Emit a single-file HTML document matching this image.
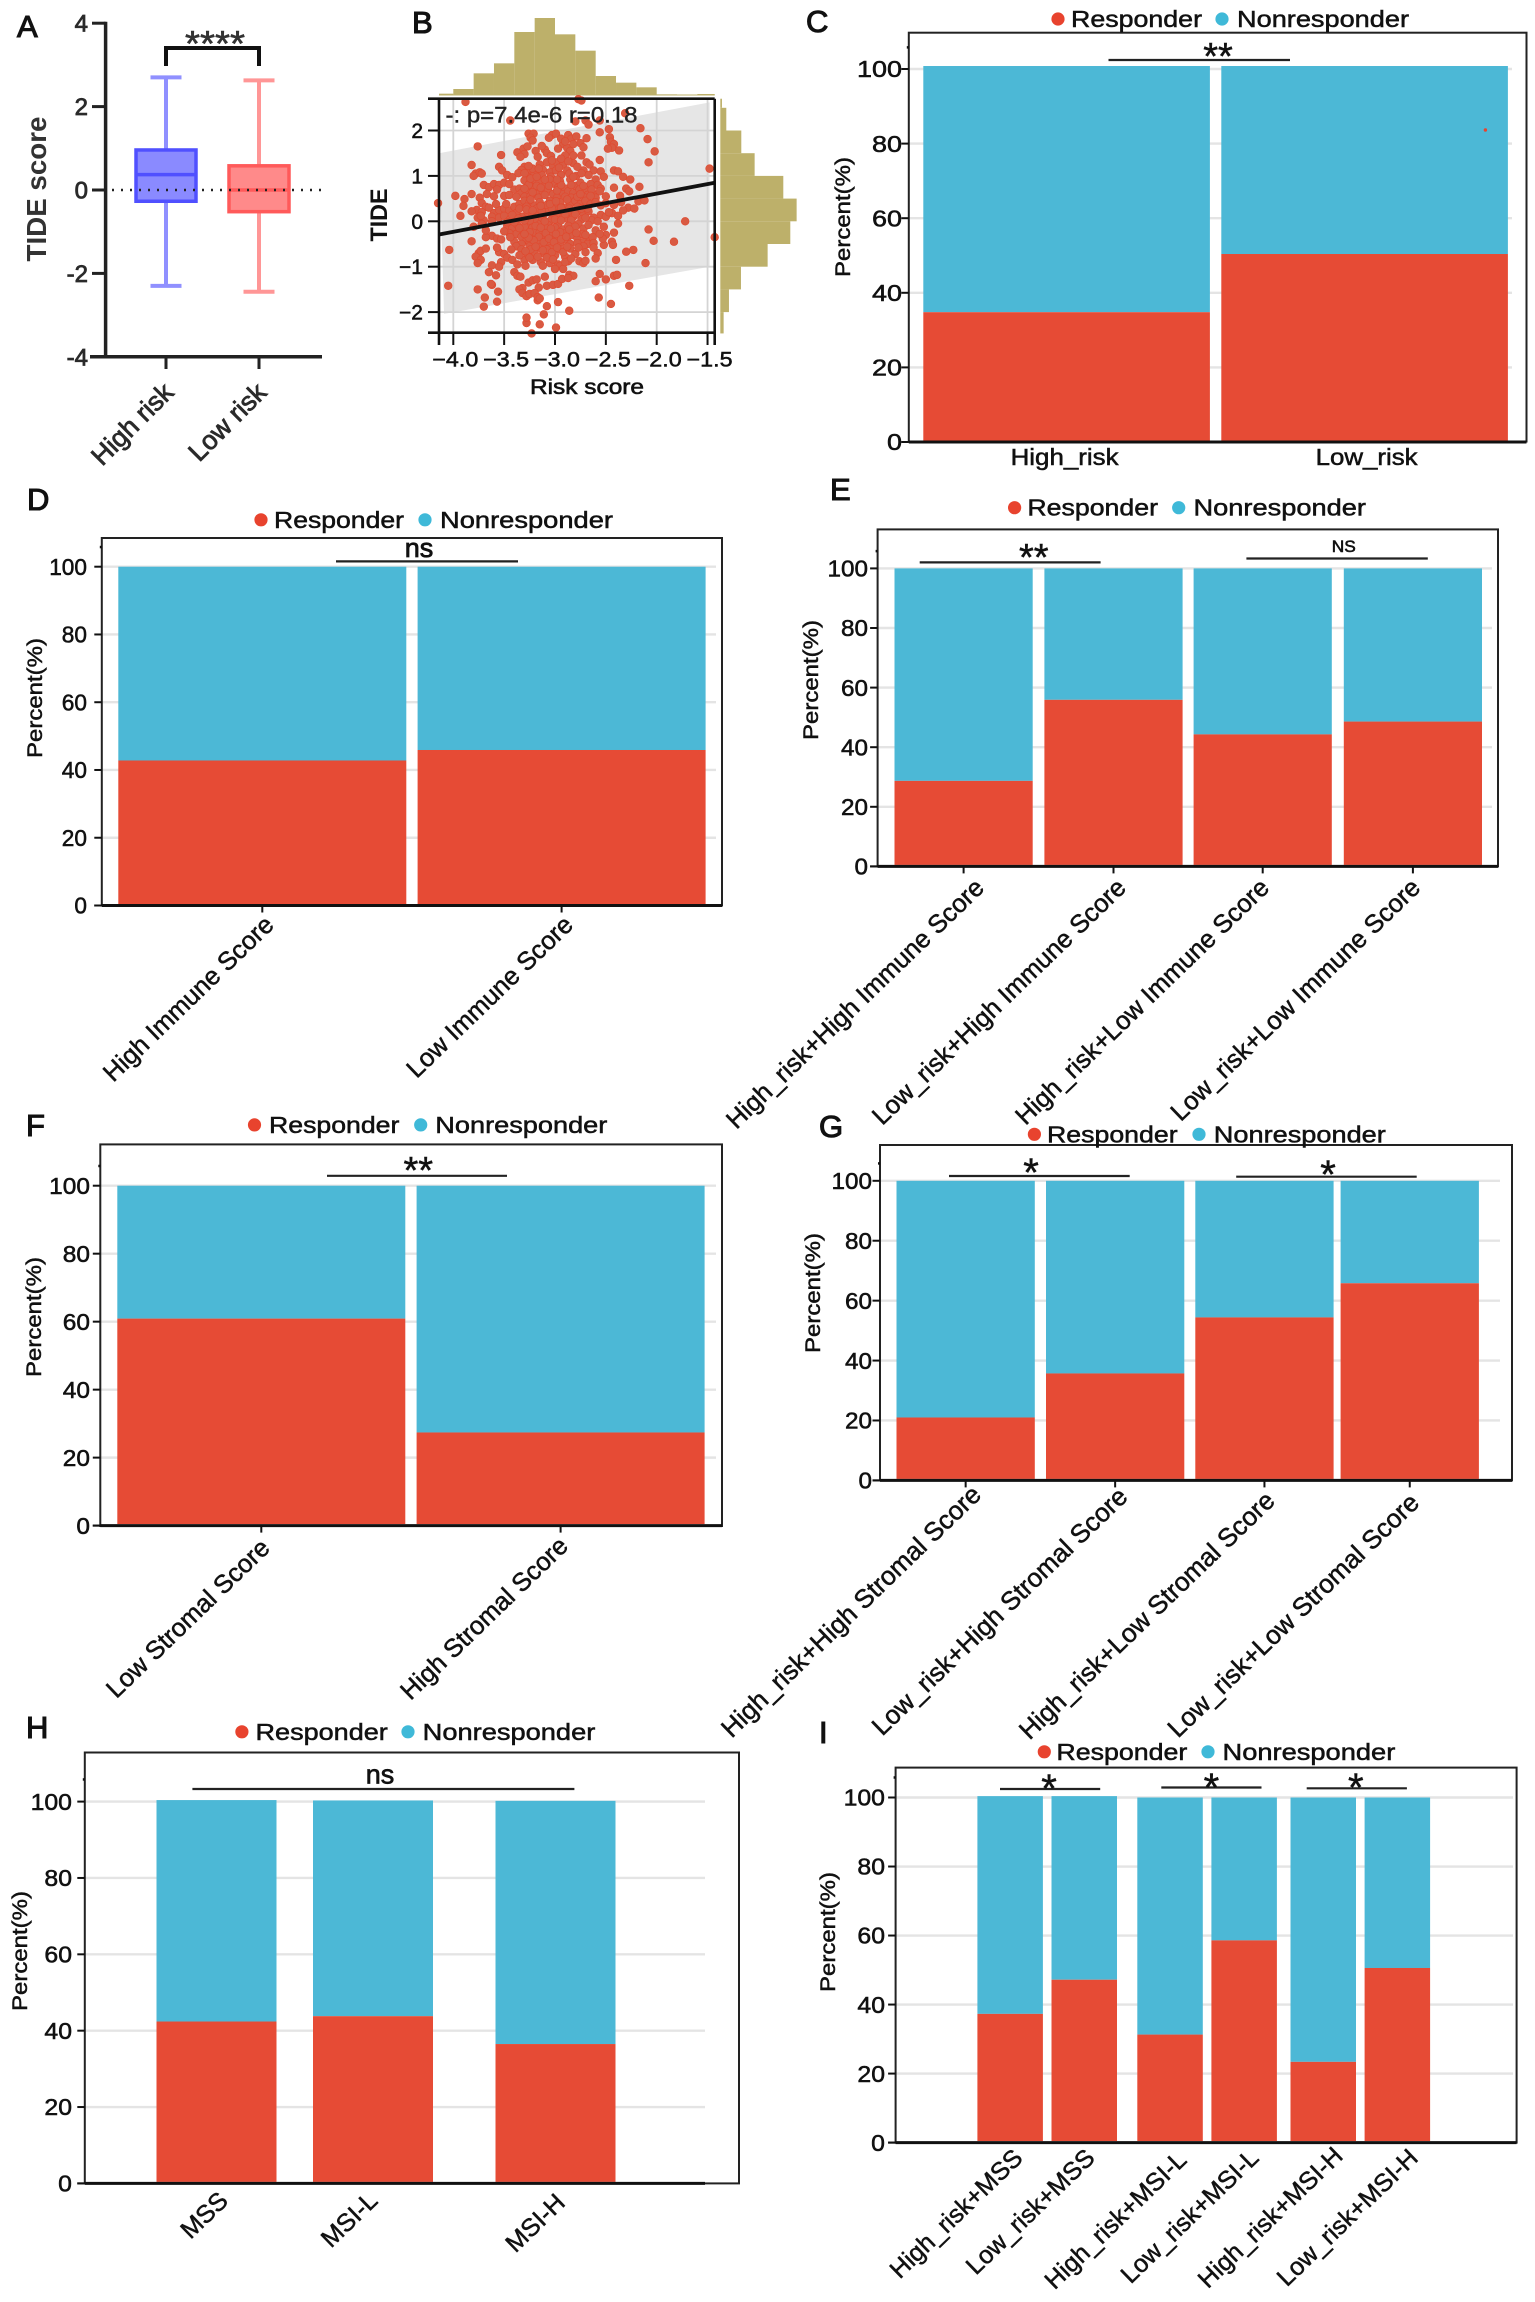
<!DOCTYPE html>
<html lang="en">
<head>
<meta charset="utf-8">
<title>TIDE score and immunotherapy response panels</title>
<style>
html,body{margin:0;padding:0;background:#fff;width:1535px;height:2302px;overflow:hidden}
svg{display:block;font-family:"Liberation Sans",sans-serif}
</style>
</head>
<body>
<svg id="figure" xmlns="http://www.w3.org/2000/svg" width="1535" height="2302" viewBox="0 0 1535 2302">
<rect x="0" y="0" width="1535" height="2302" fill="#ffffff"></rect>
<g id="panel-a"></g>
<g id="panel-b"></g>
<g id="panel-c"></g>
<g id="panel-d"></g>
<g id="panel-e"></g>
<g id="panel-f"></g>
<g id="panel-g"></g>
<g id="panel-h"></g>
<g id="panel-i"></g>
</svg>
<script>
/* ---------- Panel A data ---------- */
const boxCategories = ['High risk', 'Low risk'];
const boxMin = [-2.3, -2.44];
const boxQ1 = [-0.27, -0.52];
const boxMedian = [0.37, 0.0];
const boxQ3 = [0.96, 0.58];
const boxMax = [2.7, 2.63];
const boxTicks = [-4, -2, 0, 2, 4];

/* ---------- Panel B data ---------- */
const riskTicks = [-4.0, -3.5, -3.0, -2.5, -2.0, -1.5];
const tideTicks = [-2, -1, 0, 1, 2];
const fitRisk = [-4.14, -1.43];
const fitTide = [-0.29, 0.85];
const bandUpper = [1.5, 2.62];
const bandLower = [-2.04, -1.0];
const topHistEdges = [-4.14, -4.0, -3.8, -3.6, -3.4, -3.2, -3.0, -2.8, -2.6, -2.4, -2.2, -2.0, -1.8, -1.6, -1.43];
const topHistCounts = [4, 18, 65, 95, 189, 231, 182, 133, 57, 37, 23, 2, 0, 3];
const rightHistEdges = [2.7, 2.5, 2.0, 1.5, 1.0, 0.5, 0.0, -0.5, -1.0, -1.5, -2.0, -2.47];
const rightHistCounts = [5, 18, 63, 103, 189, 229, 210, 142, 62, 26, 10];
const scatterPoints = [
[-3.88,2.63],[-3.44,2.22],[-2.77,2.69],[-2.74,2.66],[-2.31,2.38],[-2.8,2.2],[-2.7,2.22],[-2.67,2.13],[-2.56,2.22],[-2.16,2.05],[-2.47,2.03],[-2.56,1.96],[-2.09,1.81],[-2.02,1.54],[-2.08,1.3],[-1.48,1.16],[-4.15,0.4],[-1.72,0.0],[-2.08,-0.18],[-2.03,-0.43],[-1.83,-0.45],[-1.43,-0.35],[-2.11,-0.92],[-2.23,-0.63],[-2.3,-0.67],[-2.27,-1.42],[-2.45,-1.82],[-2.57,-1.68],[-2.86,-1.97],[-2.97,-1.78],[-2.99,-2.34],[-3.23,-2.47],[-3.15,-2.27],[-3.28,-2.24],[-3.28,-2.12],[-3.11,-2.05],[-3.08,-1.87],[-3.17,-1.74],[-4.05,-1.42],[-4.04,-0.63],[-3.7,-1.88],[-3.69,-1.68],[-3.57,-1.77],[-3.76,-1.5],[-3.56,-1.55],[-3.76,1.65],[-3.53,1.46],[-3.82,1.24],[-3.98,0.56],[-3.89,0.49],[-3.9,0.34],[-3.93,0.12],
[-3.26,1.93],[-3.21,1.93],[-3.24,1.84],[-3.22,1.78],[-3.03,1.9],[-2.99,1.93],[-3.06,1.84],[-2.87,1.9],[-2.84,1.82],[-2.79,1.87],[-2.69,1.83],[-2.75,1.72],[-2.72,1.63],[-2.46,1.85],[-2.45,1.75],[-2.42,1.7],[-2.44,1.62],[-2.37,1.56],[-2.48,1.6],[-3.37,1.52],[-3.31,1.6],[-3.27,1.65],[-3.3,1.48],[-3.19,1.55],[-3.17,1.42],[-3.1,1.58],[-3.08,1.5],[-2.92,1.7],[-2.88,1.62],[-2.85,1.55],[-2.9,1.45],[-2.82,1.45],[-2.74,1.45],[-3.13,1.66],[-2.97,1.6],[-3.04,1.44],[-2.94,1.82],[-2.9,1.76],[-2.82,1.7],[-3.34,1.42],
[-2.56,1.35],[-2.69,1.3],[-2.66,1.25],[-2.72,1.12],[-3.55,1.2],[-3.52,1.12],[-3.47,1.02],[-3.42,0.97],[-3.78,1.05],[-3.8,1.0],[-3.74,1.08],[-3.72,1.05],[-3.3,1.2],[-3.25,1.1],[-3.2,1.05],[-3.28,1.0],[-3.15,1.25],[-3.08,1.3],[-3.02,1.22],[-2.98,1.3],[-2.92,1.25],[-2.88,1.12],[-2.82,1.28],[-2.78,1.2],[-2.79,1.0],[-2.62,1.12],[-2.55,1.1],[-2.42,1.12],[-2.38,1.1],[-2.33,0.98],[-2.26,0.92],[-3.33,1.13],[-3.22,1.16],[-3.12,1.14],[-3.05,1.08],[-2.99,1.12],[-2.94,1.02],[-2.86,1.05],[-2.67,1.02],[-2.6,0.92],[-2.52,0.98],[-3.36,1.06],[-3.13,1.02],[-3.04,0.98],[-2.74,1.06],
[-3.7,0.8],[-3.65,0.75],[-3.6,0.82],[-3.55,0.8],[-3.5,0.85],[-3.45,0.82],[-3.4,0.7],[-3.35,0.72],[-3.3,0.9],[-3.25,0.84],[-3.2,0.92],[-3.15,0.88],[-3.1,0.78],[-3.05,0.92],[-3.0,0.82],[-2.95,0.88],[-2.9,0.72],[-2.85,0.92],[-2.8,0.78],[-2.75,0.85],[-2.7,0.7],[-2.65,0.82],[-2.58,0.8],[-2.55,0.72],[-2.42,0.74],[-2.3,0.72],[-2.17,0.76],[-3.33,0.62],[-3.27,0.66],[-3.22,0.74],[-3.18,0.6],[-3.12,0.66],[-3.07,0.7],[-3.02,0.6],[-2.97,0.74],[-2.92,0.6],[-2.87,0.66],[-2.82,0.62],[-2.76,0.7],[-2.68,0.58],[-2.62,0.6],[-2.56,0.66],[-2.36,0.56],[-2.27,0.66],[-3.82,0.6],[-3.74,0.52],[-3.67,0.6],[-3.6,0.55],[-3.57,0.7],[-3.5,0.56],[-3.45,0.58],[-3.38,0.54],[-3.3,0.54],[-3.24,0.56],[-3.16,0.52],[-3.1,0.58],[-2.98,0.52],[-2.9,0.54],[-2.84,0.52],[-2.72,0.54],[-2.6,0.52],[-2.5,0.55],[-3.26,0.8],[-3.18,0.78],[-2.98,0.68],[-2.72,0.78],[-2.64,0.7],
[-3.72,0.4],[-3.68,0.32],[-3.77,0.25],[-3.82,0.22],[-3.72,0.2],[-3.65,0.3],[-3.6,0.18],[-3.55,0.25],[-3.5,0.28],[-3.45,0.24],[-3.4,0.32],[-3.35,0.38],[-3.3,0.45],[-3.25,0.42],[-3.2,0.35],[-3.15,0.42],[-3.1,0.3],[-3.05,0.45],[-3.0,0.35],[-2.95,0.42],[-2.9,0.3],[-2.85,0.4],[-2.8,0.45],[-2.75,0.38],[-2.7,0.45],[-2.65,0.38],[-2.6,0.42],[-2.55,0.35],[-2.42,0.36],[-2.35,0.42],[-2.28,0.3],[-2.22,0.28],[-2.18,0.44],[-2.12,0.46],[-3.76,0.08],[-3.7,0.02],[-3.73,0.12],[-3.62,0.1],[-3.55,0.08],[-3.5,0.12],[-3.44,0.05],[-3.38,0.18],[-3.32,0.1],[-3.27,0.2],[-3.22,0.14],[-3.17,0.22],[-3.12,0.12],[-3.07,0.2],[-3.02,0.1],[-2.97,0.24],[-2.92,0.12],[-2.87,0.2],[-2.82,0.1],[-2.77,0.22],[-2.72,0.14],[-2.67,0.22],[-2.62,0.08],[-2.55,0.14],[-2.5,0.1],[-2.44,0.18],[-2.38,0.12],[-2.33,0.24],[-2.47,0.2],[-3.35,0.28],[-3.28,0.32],[-3.18,0.28],[-3.08,0.36],[-2.98,0.18],[-2.88,0.06],[-2.78,0.32],[-2.68,0.28],[-3.42,0.14],[-3.14,0.04],[-3.04,0.02],[-2.84,0.03],[-2.74,0.04],[-2.64,0.02],
[-3.8,-0.12],[-3.72,-0.06],[-3.62,-0.32],[-3.57,-0.38],[-3.53,-0.4],[-3.47,-0.1],[-3.42,-0.15],[-3.37,-0.08],[-3.32,-0.2],[-3.27,-0.05],[-3.22,-0.14],[-3.17,-0.06],[-3.12,-0.18],[-3.07,-0.08],[-3.02,-0.22],[-2.97,-0.06],[-2.92,-0.18],[-2.87,-0.1],[-2.82,-0.2],[-2.77,-0.06],[-2.72,-0.16],[-2.67,-0.08],[-2.6,-0.2],[-2.52,-0.12],[-2.5,-0.3],[-2.42,-0.25],[-2.38,-0.05],[-3.38,-0.28],[-3.33,-0.34],[-3.28,-0.42],[-3.23,-0.3],[-3.18,-0.38],[-3.13,-0.3],[-3.08,-0.42],[-3.03,-0.32],[-2.98,-0.4],[-2.93,-0.32],[-2.88,-0.42],[-2.83,-0.3],[-2.78,-0.38],[-2.73,-0.28],[-2.68,-0.42],[-2.63,-0.35],[-2.72,-0.46],[-2.44,-0.45],[-3.82,-0.44],[-3.68,-0.35],[-3.45,-0.26],[-3.4,-0.45],[-3.33,-0.5],[-3.25,-0.48],[-3.15,-0.48],[-3.05,-0.5],[-2.95,-0.48],[-2.85,-0.5],[-2.78,-0.48],[-2.68,-0.5],[-2.62,-0.48],[-3.5,-0.22],[-3.44,-0.35],[-3.3,-0.12],[-3.2,-0.24],[-3.1,-0.12],[-3.0,-0.14],[-2.9,-0.26],[-2.8,-0.12],[-2.7,-0.3],[-3.15,-0.24],[-3.05,-0.28],[-2.95,-0.24],[-3.25,-0.24],[-3.35,-0.15],
[-3.75,-0.7],[-3.78,-0.78],[-3.73,-0.85],[-3.76,-0.92],[-3.73,-0.65],[-3.68,-0.6],[-3.62,-0.97],[-3.55,-0.68],[-3.5,-0.72],[-3.47,-0.8],[-3.53,-0.9],[-3.55,-1.0],[-3.42,-0.85],[-3.38,-0.55],[-3.33,-0.62],[-3.3,-0.85],[-3.25,-0.55],[-3.2,-0.7],[-3.22,-0.85],[-3.15,-0.58],[-3.1,-0.72],[-3.14,-0.9],[-3.05,-0.6],[-3.0,-0.75],[-3.05,-0.92],[-2.95,-0.62],[-2.9,-0.78],[-2.97,-0.95],[-2.85,-0.6],[-2.8,-0.72],[-2.87,-0.88],[-2.72,-0.55],[-2.7,-0.68],[-2.62,-0.58],[-2.58,-0.7],[-2.52,-0.52],[-2.95,-0.98],[-3.35,-0.75],[-3.27,-0.72],[-3.08,-0.62],[-2.77,-0.58],[-2.76,-0.88],[-2.72,-0.92],[-2.7,-0.87],[-2.6,-0.82],[-2.4,-0.85],[-2.43,-0.52],
[-3.65,-1.12],[-3.62,-1.4],[-3.58,-1.19],[-3.4,-1.12],[-3.37,-1.2],[-3.34,-1.22],[-3.32,-1.47],[-3.26,-1.35],[-3.22,-1.3],[-3.18,-1.28],[-3.1,-1.22],[-3.08,-1.42],[-3.02,-1.4],[-2.97,-1.38],[-2.93,-1.27],[-2.92,-1.05],[-2.86,-1.18],[-2.82,-1.2],[-3.0,-1.05],[-2.56,-1.16],[-2.5,-1.28],[-2.42,-1.2],[-2.39,-1.18],[-2.6,-1.32],[-2.87,-1.25],[-3.16,-1.46],
[-3.35,-1.5],[-3.32,-1.58],[-3.28,-1.65],[-3.25,-1.6],[-3.2,-1.58],[-3.17,-1.67],[-3.15,-1.7],[-3.63,-1.38],
[-3.19,-0.1],[-3.14,-0.14],[-3.09,-0.26],[-3.04,-0.16],[-2.99,-0.28],[-3.16,-0.34],[-3.11,-0.46],[-3.06,-0.38],[-3.01,-0.46],[-3.21,-0.42],[-3.26,-0.36],[-3.3,-0.28],[-2.94,-0.4],[-2.89,-0.34],[-2.86,-0.18],[-2.79,-0.26],[-3.24,-0.62],[-3.19,-0.56],[-3.12,-0.64],[-3.03,-0.68],[-2.98,-0.58],[-2.92,-0.68],[-2.88,-0.56],[-3.29,-0.66],[-3.17,-0.78],[-3.08,-0.8],[-3.02,-0.84],[-2.9,-0.9],[-3.25,-0.8],[-3.12,-0.98],[-3.2,0.06],[-3.25,0.02],[-3.1,0.0],[-3.0,0.04],[-2.94,0.02],[-2.9,0.16],[-2.8,0.16],[-2.7,0.08],[-3.3,0.02],[-3.36,0.06],[-3.4,-0.02],[-3.28,0.26],[-3.22,0.24],[-3.13,0.22],[-3.03,0.28],[-2.94,0.3],[-2.86,0.28],[-2.74,0.28],[-3.24,0.48],[-3.14,0.34],[-3.05,0.38],[-2.99,0.44],[-2.88,0.48],[-2.78,0.54],[-3.3,0.72],[-3.22,0.64],[-3.14,0.74],[-3.06,0.78],[-2.94,0.8],[-2.84,0.8],[-3.24,0.94],[-3.18,0.98],[-3.1,0.92],[-2.98,0.92],[-2.82,0.98],[-3.3,1.06],[-3.16,1.16],[-3.26,1.22],[-2.96,1.18],[-2.94,1.38],[-2.87,1.32],[-3.03,1.34],[-3.58,0.38],[-3.48,0.38],[-3.62,0.0],[-3.47,-0.02],[-3.57,-0.58],[-3.43,-0.62],[-3.68,-0.2],[-2.58,0.0],[-2.53,-0.38],[-2.56,-0.28],[-2.65,0.56],[-2.5,0.4],[-2.75,0.6],[-2.84,-0.82],[-3.37,-0.95],[-3.29,-0.98]
];

/* ---------- Stacked bar data ---------- */
const percentTicks = [0, 20, 40, 60, 80, 100];

const categoriesC = ['High_risk', 'Low_risk'];
const responderC = [34.8, 50.4];
const nonresponderC = [66.0, 50.4];

const categoriesD = ['High Immune Score', 'Low Immune Score'];
const responderD = [42.8, 45.9];
const nonresponderD = [57.2, 54.1];

const categoriesE = ['High_risk+High Immune Score', 'Low_risk+High Immune Score', 'High_risk+Low Immune Score', 'Low_risk+Low Immune Score'];
const responderE = [28.7, 55.9, 44.3, 48.6];
const nonresponderE = [71.3, 44.1, 55.7, 51.4];

const categoriesF = ['Low Stromal Score', 'High Stromal Score'];
const responderF = [60.9, 27.4];
const nonresponderF = [39.1, 72.6];

const categoriesG = ['High_risk+High Stromal Score', 'Low_risk+High Stromal Score', 'High_risk+Low Stromal Score', 'Low_risk+Low Stromal Score'];
const responderG = [21.0, 35.7, 54.4, 65.8];
const nonresponderG = [79.0, 64.3, 45.6, 34.2];

const categoriesH = ['MSS', 'MSI-L', 'MSI-H'];
const responderH = [42.4, 43.8, 36.5];
const nonresponderH = [58.0, 56.5, 63.7];

const categoriesI = ['High_risk+MSS', 'Low_risk+MSS', 'High_risk+MSI-L', 'Low_risk+MSI-L', 'High_risk+MSI-H', 'Low_risk+MSI-H'];
const responderI = [37.3, 47.2, 31.3, 58.6, 23.4, 50.6];
const nonresponderI = [63.1, 53.2, 68.7, 41.4, 76.6, 49.4];

/* ---------- Drawing helpers ---------- */
const NS = 'http://www.w3.org/2000/svg';
const RED = '#e64b35';
const BLUE = '#4cb8d6';

function shape(parent, tag, attrs, name) {
  const el = document.createElementNS(NS, tag);
  for (const k in attrs) el.setAttribute(k, attrs[k]);
  
  
  parent.appendChild(el);
  return el;
}
function line(parent, x1, y1, x2, y2, stroke, w, name) {
  return shape(parent, 'line', {x1: x1, y1: y1, x2: x2, y2: y2, stroke: stroke, 'stroke-width': w}, name);
}
function label(parent, str, x, y, o, name) {
  const a = {x: x, y: y, 'font-size': o.size, fill: o.fill || '#111', 'text-anchor': o.anchor || 'start'};
  if (o.weight) a['font-weight'] = o.weight;
  if (o.rot) a.transform = 'rotate(' + o.rot + ' ' + x + ' ' + y + ')';
  if (o.len) { a.textLength = o.len; a.lengthAdjust = 'spacingAndGlyphs'; }
  if (o.stroke) { a.stroke = o.fill || '#111'; a['stroke-width'] = o.stroke; }
  const el = shape(parent, 'text', a, name);
  el.textContent = str;
  return el;
}
function slug(s) { return s.toLowerCase().replace(/[^a-z0-9]+/g, '-'); }

/* ---------- Panel letters ---------- */
const fig = document.getElementById('figure');
[['A',17,37],['B',412,33],['C',806,32],['D',27,510],['E',830,500],['F',26,1136],['G',819,1137],['H',26,1738],['I',819,1743]].forEach(function (p) {
  label(fig, p[0], p[1], p[2], {size: 31, stroke: 1.1}, 'panel-letter-' + p[0].toLowerCase());
});

/* ---------- Panel A ---------- */
(function () {
  const g = document.getElementById('panel-a');
  const axisX = 105.6, rightX = 322, yZero = 190, perUnit = 41.7;
  const centers = [166, 259], boxHalf = 30, capHalf = 15.5;
  const y = function (v) { return yZero - v * perUnit; };
  const pal = [
    {fill: '#8a8aff', edge: '#5050ff', wh: '#9090ff'},
    {fill: '#ff8a8a', edge: '#ff5a5a', wh: '#ff9696'}
  ];
  boxCategories.forEach(function (c, i) {
    const cx = centers[i], p = pal[i], n = slug(c);
    line(g, cx, y(boxMax[i]), cx, y(boxQ3[i]), p.wh, 4, 'whisker-upper-' + n);
    line(g, cx, y(boxQ1[i]), cx, y(boxMin[i]), p.wh, 4, 'whisker-lower-' + n);
    line(g, cx - capHalf, y(boxMax[i]), cx + capHalf, y(boxMax[i]), p.wh, 4, 'cap-upper-' + n);
    line(g, cx - capHalf, y(boxMin[i]), cx + capHalf, y(boxMin[i]), p.wh, 4, 'cap-lower-' + n);
    shape(g, 'rect', {x: cx - boxHalf, y: y(boxQ3[i]), width: boxHalf * 2, height: y(boxQ1[i]) - y(boxQ3[i]), fill: p.fill, stroke: p.edge, 'stroke-width': 3.5}, 'box-' + n);
    line(g, cx - boxHalf, y(boxMedian[i]), cx + boxHalf, y(boxMedian[i]), p.edge, 3.5, 'median-' + n);
    line(g, cx, y(-4), cx, 369, '#222', 3, 'x-tick-' + n);
    label(g, c, cx + 9, 394, {size: 26.5, anchor: 'end', rot: -45, fill: '#2a2a2a', stroke: 0.8}, 'x-label-' + n);
  });
  line(g, 112, y(0), 322, y(0), '#222', 2.5, 'zero-reference-line').setAttribute('stroke-dasharray', '2 7');
  line(g, axisX, y(4) - 1.5, axisX, y(-4) + 1.5, '#222', 3.5, 'y-axis-line');
  line(g, 90, y(-4), rightX, y(-4), '#222', 3.5, 'x-axis-line');
  boxTicks.forEach(function (t) {
    line(g, 92, y(t), axisX, y(t), '#222', 3, 'y-tick-' + t);
    label(g, String(t), 88, y(t) + 8.5, {size: 24, anchor: 'end', fill: '#2a2a2a', stroke: 0.8}, 'y-label-' + t);
  });
  label(g, 'TIDE score', 46, 189, {size: 28, weight: 'bold', anchor: 'middle', rot: -90, len: 145, fill: '#333'}, 'y-axis-title');
  shape(g, 'path', {d: 'M166 66V48H259V66', fill: 'none', stroke: '#111', 'stroke-width': 4}, 'significance-bracket');
  label(g, '****', 215, 56, {size: 36, anchor: 'middle', len: 60, fill: '#333', stroke: 0.6}, 'significance-label');
})();

/* ---------- Panel B ---------- */
(function () {
  const g = document.getElementById('panel-b');
  const left = 439, right = 714.7, top = 98.7, bottom = 332.7;
  const sx = function (v) { return 555 + (v + 3) * 101.7; };
  const sy = function (v) { return 221.3 - v * 45.4; };
  const HIST = '#bdb06a';
  topHistCounts.forEach(function (c, i) {
    const h = c / 3;
    shape(g, 'rect', {x: sx(topHistEdges[i]), y: 95 - h, width: sx(topHistEdges[i + 1]) - sx(topHistEdges[i]), height: h, fill: HIST}, 'top-histogram-bin');
  });
  shape(g, 'rect', {x: left, y: 94.5, width: right - left, height: 1, fill: HIST}, 'top-histogram-baseline');
  rightHistCounts.forEach(function (c, i) {
    shape(g, 'rect', {x: 720.3, y: sy(rightHistEdges[i]), width: c / 3, height: sy(rightHistEdges[i + 1]) - sy(rightHistEdges[i]), fill: HIST}, 'right-histogram-bin');
  });
  shape(g, 'polygon', {points: [
    [sx(fitRisk[0]), sy(bandUpper[0])], [sx(fitRisk[1]) - 5, sy(bandUpper[1])],
    [sx(fitRisk[1]) - 5, sy(bandLower[1])], [sx(fitRisk[0]) + 5, sy(bandLower[0])]
  ].join(' '), fill: '#e6e6e6'}, 'confidence-band');
  riskTicks.forEach(function (t) {
    line(g, sx(t), top, sx(t), bottom, '#d4d4d4', 1.8, 'x-gridline');
  });
  tideTicks.forEach(function (t) {
    line(g, left, sy(t), right, sy(t), '#d4d4d4', 1.8, 'y-gridline');
  });
  scatterPoints.forEach(function (p) {
    shape(g, 'circle', {cx: sx(p[0]), cy: sy(p[1]), r: 3.9, fill: '#d95a42', stroke: '#e0492f', 'stroke-width': 0.6}, 'scatter-point');
  });
  line(g, sx(fitRisk[0]), sy(fitTide[0]), sx(fitRisk[1]), sy(fitTide[1]), '#111', 3.8, 'regression-line');
  line(g, 428, top, right, top, '#111', 2.6, 'plot-top-border');
  line(g, 428, bottom, right, bottom, '#111', 2.6, 'plot-bottom-border');
  line(g, left, top, left, 345, '#111', 2.6, 'plot-left-border');
  line(g, right, top, right, 345, '#111', 2.6, 'plot-right-border');
  riskTicks.forEach(function (t) {
    line(g, sx(t), bottom, sx(t), 345, '#111', 2, 'x-tick');
    label(g, '\u2212' + Math.abs(t).toFixed(1), sx(t) + 2, 366.5, {size: 21, anchor: 'middle', len: 46, stroke: 0.5}, 'x-tick-label');
  });
  tideTicks.forEach(function (t) {
    line(g, 428, sy(t), left, sy(t), '#111', 2, 'y-tick');
    label(g, (t < 0 ? '\u2212' : '') + Math.abs(t), 423, sy(t) + 7.5, {size: 21, anchor: 'end', stroke: 0.5}, 'y-tick-label');
  });
  label(g, 'Risk score', 587, 394, {size: 21, anchor: 'middle', len: 114, stroke: 0.6}, 'x-axis-title');
  label(g, 'TIDE', 387, 215, {size: 24, weight: 'bold', anchor: 'middle', rot: -90, len: 53}, 'y-axis-title');
  label(g, '-: p=7.4e-6 r=0.18', 445.5, 122.5, {size: 22.5, len: 192, fill: '#222', stroke: 0.4}, 'correlation-annotation');
})();

/* ---------- Stacked bars ---------- */
function drawStacked(cfg) {
  const g = document.getElementById(cfg.id);
  const y = function (v) { return cfg.y0 - v * (cfg.y0 - cfg.y100) / 100; };
  const F = cfg.frame;
  percentTicks.forEach(function (t) {
    if (t > 0) line(g, F[0], y(t), cfg.gridRight, y(t), '#e4e4e4', 2.4, 'gridline-' + t);
  });
  let x = cfg.x0;
  const centers = [];
  cfg.categories.forEach(function (c, i) {
    const n = slug(c);
    const r = cfg.responder[i], s = cfg.nonresponder[i];
    shape(g, 'rect', {x: x, y: y(r + s), width: cfg.barW, height: y(r) - y(r + s), fill: BLUE}, 'bar-nonresponder-' + n);
    shape(g, 'rect', {x: x, y: y(r), width: cfg.barW, height: y(0) - y(r) - 1.5, fill: RED}, 'bar-responder-' + n);
    centers.push(x + cfg.barW / 2);
    x += cfg.barW + (cfg.gaps[i] || 0);
  });
  shape(g, 'rect', {x: F[0], y: F[1], width: F[2] - F[0], height: F[3] - F[1], fill: 'none', stroke: '#222', 'stroke-width': 2}, 'plot-frame');
  line(g, F[0], y(0), cfg.bottomRight || F[2], y(0), '#111', 3, 'x-axis-line');
  line(g, F[0] - 7.5, y(0), F[0], y(0), '#111', 2, 'y-tick-0');
  percentTicks.forEach(function (t) {
    line(g, F[0] - 7.5, y(t), F[0], y(t), '#111', 2, 'y-tick-' + t);
    const s = String(t);
    label(g, s, cfg.tickRight, y(t) + 8.2, {size: 23.5, anchor: 'end', len: s.length * cfg.digitW, stroke: 0.55}, 'y-tick-label-' + t);
  });
  line(g, F[0] - 2, y(105.8), F[0], y(105.8), '#111', 2.5, 'y-tick-upper-extent');
  label(g, 'Percent(%)', cfg.titleX, cfg.titleY, {size: 21.5, anchor: 'middle', rot: -90, len: 120, stroke: 0.5}, 'y-axis-title');
  const L = cfg.legend;
  shape(g, 'ellipse', {cx: L.redX, cy: L.y, rx: 6.6, ry: 6.6, fill: '#e8432e'}, 'legend-marker-responder');
  label(g, 'Responder', L.t1, L.y + 8, {size: 23, len: L.w1, stroke: 0.5}, 'legend-label-responder');
  shape(g, 'ellipse', {cx: L.blueX, cy: L.y, rx: 6.6, ry: 6.6, fill: '#3fb9d8'}, 'legend-marker-nonresponder');
  label(g, 'Nonresponder', L.t2, L.y + 8, {size: 23, len: L.w2, stroke: 0.5}, 'legend-label-nonresponder');
  cfg.marks.forEach(function (m) {
    line(g, m.x1, m.y, m.x2, m.y, '#222', 2.2, 'significance-line');
    label(g, m.text, m.tx, m.ty, {size: m.size, anchor: 'middle', len: m.len, stroke: m.stroke || 0.5}, 'significance-label');
  });
  cfg.categories.forEach(function (c, i) {
    const n = slug(c), cx = centers[i];
    if (cfg.xTicks) line(g, cx, y(0), cx, y(0) + 7, '#111', 2, 'x-tick-' + n);
    if (cfg.flatLabels) {
      label(g, c, cx + cfg.labelDx[i], y(0) + cfg.labelDy[i], {size: cfg.labelSize, anchor: 'middle', len: cfg.labelLen[i], stroke: 0.5}, 'x-label-' + n);
    } else {
      label(g, c, cx + cfg.labelDx[i], y(0) + cfg.labelDy[i], {size: cfg.labelSize, anchor: 'end', rot: -44, stroke: 0.5}, 'x-label-' + n);
    }
  });
  return g;
}

const panelC = drawStacked({
  id: 'panel-c', categories: categoriesC, responder: responderC, nonresponder: nonresponderC,
  frame: [908.8, 32.7, 1526.5, 441.5], y0: 442, y100: 69, x0: 923.3, barW: 286.6, gaps: [11.4], gridRight: 1512,
  tickRight: 902, digitW: 15, titleX: 850, titleY: 217, xTicks: false, flatLabels: true, labelSize: 23,
  labelDx: [-2, 2], labelDy: [23, 23], labelLen: [108, 102],
  legend: {y: 19, redX: 1058, t1: 1071, w1: 131, blueX: 1222, t2: 1237, w2: 172},
  marks: [{x1: 1108.5, x2: 1290, y: 60, text: '**', tx: 1218, ty: 69, size: 38}]
});
shape(panelC, 'circle', {cx: 1485.4, cy: 130, r: 1.7, fill: '#e8432e'}, 'stray-marker');

drawStacked({
  id: 'panel-d', categories: categoriesD, responder: responderD, nonresponder: nonresponderD,
  frame: [101.8, 538, 722, 905.5], y0: 905.5, y100: 566.7, x0: 118.3, barW: 288, gaps: [11.3], gridRight: 716,
  tickRight: 87, digitW: 12.6, titleX: 42, titleY: 698, xTicks: true, labelSize: 25.5,
  labelDx: [13, 13], labelDy: [21, 21],
  legend: {y: 519.8, redX: 261, t1: 274, w1: 130, blueX: 425, t2: 440, w2: 173},
  marks: [{x1: 336, x2: 518, y: 561.4, text: 'ns', tx: 419, ty: 557, size: 27, stroke: 0.8}]
});

drawStacked({
  id: 'panel-e', categories: categoriesE, responder: responderE, nonresponder: nonresponderE,
  frame: [877.6, 529.4, 1498, 866.4], y0: 866.4, y100: 568.4, x0: 894.5, barW: 138.2, gaps: [11.7, 11, 12], gridRight: 1492,
  tickRight: 868, digitW: 13.5, titleX: 818, titleY: 680, xTicks: true, labelSize: 25.5,
  labelDx: [22, 14, 8, 9], labelDy: [23, 23, 23, 23],
  legend: {y: 507.7, redX: 1014.6, t1: 1027.4, w1: 130.6, blueX: 1178.7, t2: 1193.5, w2: 172.5},
  marks: [
    {x1: 919.7, x2: 1100.6, y: 562.4, text: '**', tx: 1033.8, ty: 570, size: 38},
    {x1: 1246.4, x2: 1427.8, y: 558.5, text: 'NS', tx: 1343.8, ty: 552, size: 17, len: 24, stroke: 0.6}
  ]
});

drawStacked({
  id: 'panel-f', categories: categoriesF, responder: responderF, nonresponder: nonresponderF,
  frame: [100.3, 1144.4, 722, 1526], y0: 1525.6, y100: 1185.7, x0: 117.3, barW: 288, gaps: [11.3], gridRight: 716,
  tickRight: 90, digitW: 13.6, titleX: 41, titleY: 1317, xTicks: true, labelSize: 25.5,
  labelDx: [10, 9], labelDy: [24, 22],
  legend: {y: 1124.9, redX: 254.5, t1: 269, w1: 130.4, blueX: 420.7, t2: 435.3, w2: 172},
  marks: [{x1: 327, x2: 507, y: 1175.8, text: '**', tx: 418.3, ty: 1183, size: 38}]
});

drawStacked({
  id: 'panel-g', categories: categoriesG, responder: responderG, nonresponder: nonresponderG,
  frame: [880, 1145, 1512, 1480.4], y0: 1480.4, y100: 1180.8, x0: 896.5, barW: 138.3, gaps: [11.2, 11, 7], gridRight: 1500,
  tickRight: 872, digitW: 13.5, titleX: 820, titleY: 1293, xTicks: true, labelSize: 26,
  labelDx: [17, 14, 12, 11], labelDy: [16, 18, 22, 24],
  legend: {y: 1134.3, redX: 1034.4, t1: 1047, w1: 130.6, blueX: 1199, t2: 1213.8, w2: 172},
  marks: [
    {x1: 949, x2: 1129.7, y: 1176, text: '*', tx: 1031, ty: 1186, size: 40},
    {x1: 1236.2, x2: 1416.7, y: 1176.7, text: '*', tx: 1328, ty: 1188, size: 40}
  ]
});

drawStacked({
  id: 'panel-h', categories: categoriesH, responder: responderH, nonresponder: nonresponderH,
  frame: [84.8, 1752.5, 739, 2183.4], y0: 2183.4, y100: 1801.6, x0: 156.5, barW: 120, gaps: [36.5, 62.5], gridRight: 705, bottomRight: 705,
  tickRight: 72, digitW: 13.8, titleX: 27, titleY: 1951, xTicks: false, labelSize: 25,
  labelDx: [13, 6, 11], labelDy: [19, 19, 21],
  legend: {y: 1731.8, redX: 241.9, t1: 255.5, w1: 132.3, blueX: 408, t2: 422.7, w2: 172.6},
  marks: [{x1: 192.4, x2: 574.4, y: 1789, text: 'ns', tx: 380, ty: 1783.7, size: 27, stroke: 0.7}]
});

drawStacked({
  id: 'panel-i', categories: categoriesI, responder: responderI, nonresponder: nonresponderI,
  frame: [895.6, 1767.6, 1516.6, 2142.6], y0: 2142.6, y100: 1797.5, x0: 977.4, barW: 65.5, gaps: [8.6, 20.3, 8.6, 13.6, 8.6], gridRight: 1513,
  tickRight: 885, digitW: 13.8, titleX: 835, titleY: 1932, xTicks: false, labelSize: 25,
  labelDx: [14, 12, 18, 16, 21, 22], labelDy: [17, 17, 19, 17, 15, 17],
  legend: {y: 1751.8, redX: 1044.3, t1: 1056.4, w1: 130.9, blueX: 1208, t2: 1222.5, w2: 172.8},
  marks: [
    {x1: 1000, x2: 1100.2, y: 1789, text: '*', tx: 1049, ty: 1802, size: 40},
    {x1: 1161.3, x2: 1261.5, y: 1787.5, text: '*', tx: 1211.4, ty: 1801, size: 40},
    {x1: 1306.7, x2: 1406.9, y: 1788.3, text: '*', tx: 1355.8, ty: 1801, size: 40}
  ]
});
</script>
</body>
</html>
